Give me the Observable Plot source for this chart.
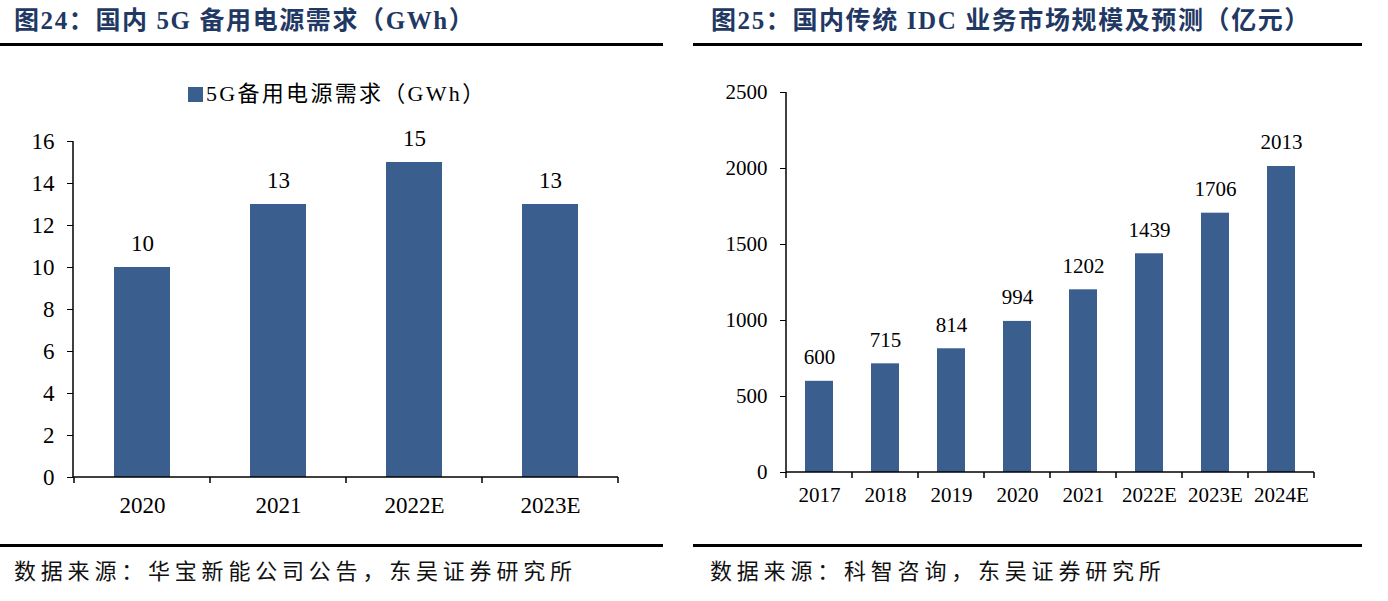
<!DOCTYPE html>
<html><head><meta charset="utf-8">
<script src="https://cdn.jsdelivr.net/npm/d3@7"></script>
<script src="https://cdn.jsdelivr.net/npm/@observablehq/plot@0.6"></script>
<style>
body{margin:0;background:#fff;width:1388px;height:601px;position:relative;overflow:hidden;font-family:"Liberation Serif","Noto Sans CJK SC",serif;}
.abs{position:absolute}
.title{font-family:"Liberation Serif","Noto Sans CJK SC",serif;font-weight:bold;color:#1f3864;font-size:25px;letter-spacing:1.6px;white-space:nowrap;line-height:1}
.rule{background:#000;height:3px}
.caption{font-family:"Noto Sans CJK SC",sans-serif;font-size:22px;letter-spacing:4.8px;color:#111;white-space:nowrap;line-height:1}
.legend{font-family:"Liberation Serif","Noto Sans CJK SC",serif;font-size:22px;letter-spacing:2.3px;white-space:nowrap;line-height:1;color:#000;display:flex;align-items:center}
.sw{width:15px;height:15px;background:#3a5f8e;margin-right:3px;display:inline-block}
svg text{font-family:"Liberation Serif",serif}
</style></head><body>
<div id="root"></div>
<script>
// ---- data ----
const titleA = "图24：国内 5G 备用电源需求（GWh）";
const titleB = "图25：国内传统 IDC 业务市场规模及预测（亿元）";
const captionA = "数据来源：华宝新能公司公告，东吴证券研究所";
const captionB = "数据来源：科智咨询，东吴证券研究所";
const legendA = "5G备用电源需求（GWh）";
const catsA = ["2020", "2021", "2022E", "2023E"];
const valsA = [10, 13, 15, 13];
const ticksA = [0, 2, 4, 6, 8, 10, 12, 14, 16];
const catsB = ["2017", "2018", "2019", "2020", "2021", "2022E", "2023E", "2024E"];
const valsB = [600, 715, 814, 994, 1202, 1439, 1706, 2013];
const ticksB = [0, 500, 1000, 1500, 2000, 2500];
const barColor = "#3a5f8e";

const root = document.getElementById("root");
function addDiv(cls, text, style) {
  const d = document.createElement("div");
  d.className = "abs " + cls;
  if (text != null) d.textContent = text;
  Object.assign(d.style, style);
  root.appendChild(d);
  return d;
}

// titles, rules, captions
addDiv("title", titleA, {left: "14px", top: "8px"});
addDiv("title", titleB, {left: "711px", top: "8px"});
addDiv("rule", null, {left: "0px", top: "43px", width: "663px"});
addDiv("rule", null, {left: "693px", top: "43px", width: "669px"});
addDiv("rule", null, {left: "0px", top: "544px", width: "663px"});
addDiv("rule", null, {left: "693px", top: "544px", width: "669px"});
addDiv("caption", captionA, {left: "14px", top: "558px"});
addDiv("caption", captionB, {left: "710px", top: "558px"});

// axis lines + boundary ticks drawn from the scales
function axesMark(cats, tickLen) {
  return (index, scales, values, dims) => {
    const x = scales.x, y = scales.y;
    const bw = typeof x.bandwidth === "function" ? x.bandwidth() : x.bandwidth;
    const centers = cats.map(c => x(c) + bw / 2);
    const step = centers[1] - centers[0];
    const y0 = y(0);
    const xl = dims.marginLeft, xr = dims.width - dims.marginRight;
    const g = d3.create("svg:g").attr("stroke", "#000").attr("stroke-width", 1.5).attr("fill", "none");
    g.append("line").attr("x1", xl).attr("x2", xl).attr("y1", dims.marginTop).attr("y2", y0);
    g.append("line").attr("x1", xl).attr("x2", xr).attr("y1", y0).attr("y2", y0);
    const bounds = [centers[0] - step / 2, ...centers.map(c => c + step / 2)];
    for (const b of bounds) {
      g.append("line").attr("x1", b).attr("x2", b).attr("y1", y0).attr("y2", y0 + tickLen);
    }
    return g.node();
  };
}

function chart(cats, vals, ticks, opts) {
  const data = cats.map((c, i) => ({cat: c, v: vals[i]}));
  return Plot.plot({
    width: opts.width,
    height: opts.height,
    marginLeft: opts.ml, marginRight: opts.mr, marginTop: opts.mt, marginBottom: opts.mb,
    style: {fontFamily: "Liberation Serif", fontSize: opts.fs + "px", color: "#000", background: "transparent", overflow: "visible"},
    x: {domain: cats, paddingInner: opts.pi, paddingOuter: opts.pi / 2, tickSize: 0, tickPadding: opts.xpad, label: null},
    y: {domain: [0, ticks[ticks.length - 1]], ticks: ticks, tickFormat: d => String(d), tickSize: 6, tickPadding: 13, label: null},
    marks: [
      Plot.barY(data, {x: "cat", y: "v", fill: barColor}),
      Plot.text(data, {x: "cat", y: "v", text: d => String(d.v), dy: -24, fontSize: opts.fs, fill: "#000"}),
      axesMark(cats, 6)
    ]
  });
}

const svgA = chart(catsA, valsA, ticksA, {width: 663, height: 490, ml: 73, mr: 45, mt: 91, mb: 63, pi: 0.59, xpad: 19, fs: 23});
const wrapA = addDiv("", null, {left: "0px", top: "50px"});
wrapA.appendChild(svgA);

const svgB = chart(catsB, valsB, ticksB, {width: 670, height: 490, ml: 93, mr: 49, mt: 42, mb: 68, pi: 0.576, xpad: 15, fs: 21});
const wrapB = addDiv("", null, {left: "693px", top: "50px"});
wrapB.appendChild(svgB);

// legend
const lg = addDiv("legend", null, {left: "188px", top: "83px"});
const sw = document.createElement("span"); sw.className = "sw"; lg.appendChild(sw);
const lt = document.createElement("span"); lt.textContent = legendA; lg.appendChild(lt);
</script>
</body></html>
